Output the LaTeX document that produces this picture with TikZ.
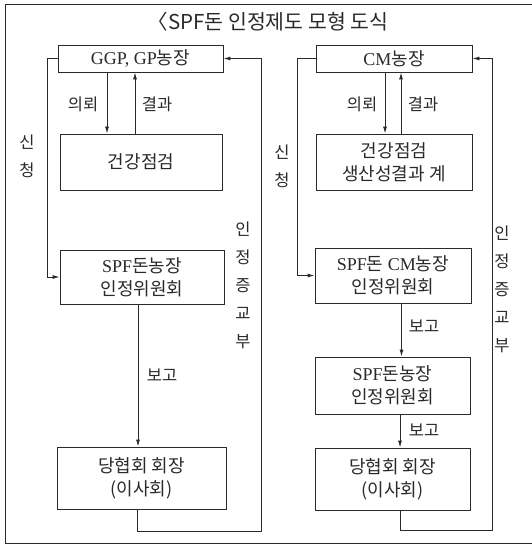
\documentclass[tikz,border=0pt]{standalone}
\usepackage{fontspec}
\setmainfont{Liberation Serif}
\newfontfamily\kr{Noto Sans CJK KR}
\newcommand\hg[1]{{\kr #1}}
\usetikzlibrary{arrows.meta,calc}
\definecolor{ink}{HTML}{2A2A2A}
\begin{document}
\begin{tikzpicture}[x=1pt,y=-1pt,
  every node/.style={text=ink},
  boxnode/.style={draw=ink,line width=0.9pt,inner sep=0pt,align=center,
    font=\fontsize{18}{23}\selectfont},
  lbl/.style={inner sep=0pt,font=\kr\fontsize{16.5}{18}\selectfont},
  vlbl/.style={inner sep=0pt,align=center,font=\kr\fontsize{16.5}{28}\selectfont},
  conn/.style={draw=ink,line width=0.9pt},
  arr/.style={conn,-{Latex[length=7pt,width=4pt]}}]
\useasboundingbox (0,0) rectangle (531,545);
\fill[white] (0,0) rectangle (531,545);
% outer frame
\draw[ink,line width=0.8pt] (540,4) -- (5,4) -- (5,543) -- (540,543);
% title
\node[inner sep=0pt,font=\kr\fontsize{20.5}{22}\selectfont] (title) at (268,22) {〈SPF돈 인정제도 모형 도식};

% left column
\node[boxnode,minimum width=165,minimum height=27] (ggp) at (140.5,58.5) {GGP, GP\hg{농장}};
\node[boxnode,minimum width=162,minimum height=56] (chk1) at (141,162) {\hg{건강점검}};
\node[boxnode,minimum width=164,minimum height=54] (spf1) at (142,277) {SPF\hg{돈농장}\\\hg{인정위원회}};
\node[boxnode,minimum width=169,minimum height=62] (dang1) at (141.5,478) {\hg{당협회 회장}\\\hg{(이사회)}};

\draw[arr] ([xshift=-33.5]ggp.south) -- ([xshift=-33.5]ggp.south |- chk1.north);
\draw[arr] ([xshift=-5.5]ggp.south |- chk1.north) -- ([xshift=-5.5]ggp.south);
\draw[arr] (ggp.west) -- ++(-10,0) |- (spf1.west);
\draw[arr] ([xshift=-4]spf1.south) -- ([xshift=-4]spf1.south |- dang1.north);
\draw[arr] ([xshift=-4.5]dang1.south) -- ++(0,22) -| ([xshift=38]ggp.east) -- (ggp.east);

\node[lbl] (l1) at (83,104) {의뢰};
\node[lbl] (l2) at (157,104) {결과};
\node[lbl] (l3) at (162,375) {보고};
\node[vlbl] (l4) at (27,156) {신\\청};
\node[vlbl] (l5) at (243,285) {인\\정\\증\\교\\부};

% right column
\node[boxnode,minimum width=156,minimum height=27] (cm) at (394,58.5) {CM\hg{농장}};
\node[boxnode,minimum width=156,minimum height=56] (chk2) at (394,162) {\hg{건강점검}\\\hg{생산성결과 계}};
\node[boxnode,minimum width=156,minimum height=55] (spfcm) at (393,275.5) {SPF\hg{돈} CM\hg{농장}\\\hg{인정위원회}};
\node[boxnode,minimum width=155,minimum height=57] (spf2) at (392.5,385.5) {SPF\hg{돈농장}\\\hg{인정위원회}};
\node[boxnode,minimum width=155,minimum height=62] (dang2) at (392.5,479) {\hg{당협회 회장}\\\hg{(이사회)}};

\draw[arr] ([xshift=-9]cm.south) -- ([xshift=-9]cm.south |- chk2.north);
\draw[arr] ([xshift=7]cm.south |- chk2.north) -- ([xshift=7]cm.south);
\draw[arr] (cm.west) -- ++(-18,0) |- (spfcm.west);
\draw[arr] ([xshift=8.5]spfcm.south) -- ([xshift=8.5]spfcm.south |- spf2.north);
\draw[arr] ([xshift=7.5]spf2.south) -- ([xshift=7.5]spf2.south |- dang2.north);
\draw[arr] ([xshift=7.5]dang2.south) -- ++(0,20) -| ([xshift=20]cm.east) -- (cm.east);

\node[lbl] (r1) at (362,104) {의뢰};
\node[lbl] (r2) at (423,104) {결과};
\node[lbl] (r3) at (424,326) {보고};
\node[lbl] (r4) at (424,430) {보고};
\node[vlbl] (r5) at (282,166.5) {신\\청};
\node[vlbl] (r6) at (502,289) {인\\정\\증\\교\\부};
\end{tikzpicture}
\end{document}
